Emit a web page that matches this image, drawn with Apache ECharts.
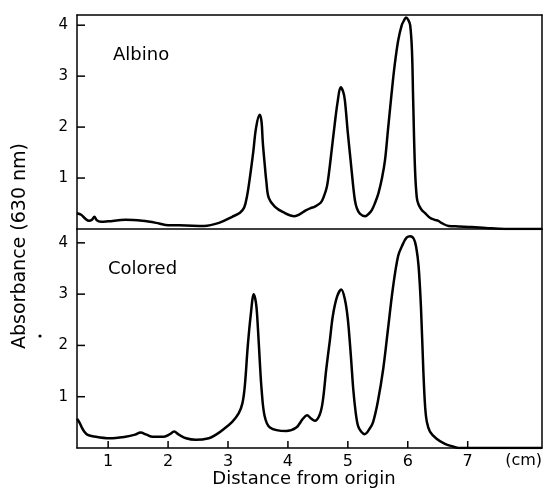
<!DOCTYPE html>
<html>
<head>
<meta charset="utf-8">
<script src="https://cdn.jsdelivr.net/npm/echarts@6/dist/echarts.min.js"></script>
<style>
html,body{margin:0;padding:0;background:#fff;}
#c{width:544px;height:488px;}
</style>
</head>
<body>
<div id="c"></div>
<script>
// Distance from origin (cm) and absorbance (630 nm)
var albinoX = [0.48,0.55,0.62,0.68,0.73,0.77,0.81,0.88,1.0,1.29,1.57,1.8,1.96,2.3,2.6,2.85,3.07,3.2,3.27,3.32,3.37,3.42,3.47,3.53,3.56,3.58,3.61,3.64,3.68,3.78,3.92,4.11,4.2,4.29,4.38,4.45,4.55,4.6,4.65,4.69,4.73,4.78,4.83,4.88,4.92,4.95,5.0,5.05,5.09,5.12,5.15,5.2,5.29,5.35,5.4,5.45,5.51,5.57,5.62,5.67,5.73,5.78,5.84,5.9,5.94,5.97,6.01,6.04,6.07,6.09,6.12,6.15,6.18,6.23,6.29,6.37,6.45,6.51,6.56,6.68,6.85,7.07,7.3,7.62,8.24];
var albinoY = [0.31,0.28,0.20,0.16,0.18,0.24,0.17,0.14,0.15,0.18,0.16,0.12,0.08,0.07,0.06,0.12,0.24,0.32,0.42,0.66,1.05,1.5,2.0,2.24,2.1,1.71,1.3,0.93,0.61,0.44,0.33,0.25,0.29,0.36,0.41,0.44,0.52,0.64,0.83,1.15,1.55,2.05,2.5,2.78,2.7,2.53,1.88,1.3,0.83,0.55,0.41,0.30,0.25,0.3,0.37,0.5,0.70,1.0,1.35,1.95,2.66,3.2,3.7,4.0,4.1,4.15,4.1,4.0,3.5,2.53,1.2,0.62,0.48,0.38,0.31,0.22,0.18,0.16,0.12,0.06,0.05,0.04,0.02,0.0,0.0];

var coloredX = [0.48,0.52,0.56,0.6,0.65,0.74,1.02,1.29,1.45,1.54,1.64,1.74,1.93,2.03,2.1,2.18,2.3,2.46,2.68,2.8,2.91,3.07,3.18,3.24,3.28,3.33,3.38,3.43,3.47,3.5,3.53,3.56,3.61,3.7,3.97,4.14,4.25,4.32,4.38,4.45,4.53,4.58,4.64,4.7,4.75,4.82,4.89,4.95,5.0,5.05,5.09,5.13,5.17,5.22,5.28,5.36,5.42,5.5,5.59,5.67,5.75,5.84,5.92,5.98,6.04,6.1,6.14,6.18,6.22,6.26,6.29,6.32,6.37,6.48,6.62,6.75,6.85,8.24];
var coloredY = [0.57,0.50,0.40,0.32,0.26,0.23,0.19,0.22,0.26,0.30,0.26,0.22,0.22,0.27,0.32,0.26,0.19,0.16,0.19,0.26,0.35,0.51,0.68,0.87,1.2,1.99,2.6,3.0,2.8,2.32,1.7,1.15,0.63,0.40,0.33,0.40,0.57,0.64,0.58,0.53,0.65,0.9,1.54,2.1,2.58,2.95,3.09,2.9,2.51,1.8,1.15,0.7,0.43,0.32,0.27,0.37,0.50,0.9,1.54,2.32,3.1,3.75,3.98,4.1,4.13,4.08,3.92,3.55,2.75,1.5,0.8,0.5,0.32,0.18,0.08,0.03,0.0,0.0];

var xTicks = [1,2,3,4,5,6,7];
var yTicks = [1,2,3,4];
var xMin = 0.48, xMax = 8.24;
var yMaxTop = 4.2, yMaxBottom = 4.27;

function pairs(xs, ys){ return xs.map(function(x,i){ return [x, ys[i]]; }); }

// helper category slots (0.04 cm apart) used only to place x labels at whole centimetres
var tickSlots = [];
for (var k = 48; k <= 824; k += 4) tickSlots.push((k/100).toFixed(2));
function isTickSlot(i, v){ return xTicks.indexOf(Number(v)) >= 0; }

var FONT = 'DejaVu Sans';
var LINE = {color:'#000', width:1.5};
var GRID_W = 465, GRID_H_BOTTOM = 219;
var chart = echarts.init(document.getElementById('c'), null, {renderer:'canvas'});

function frameX(grid, pos){
  return {gridIndex:grid, type:'value', min:xMin, max:xMax, position:pos,
    axisLine:{show:true, onZero:false, lineStyle:LINE},
    splitLine:{show:false}, axisTick:{show:false}, axisLabel:{show:false}};
}
function frameY(grid, max){
  return {gridIndex:grid, type:'value', min:0, max:max, position:'right',
    axisLine:{show:true, onZero:false, lineStyle:LINE},
    splitLine:{show:false}, axisTick:{show:false}, axisLabel:{show:false}};
}
function leftY(grid, max){
  return {gridIndex:grid, type:'value', min:0, max:max, interval:1, position:'left',
    axisLine:{show:true, onZero:false, lineStyle:LINE},
    splitLine:{show:false}, axisTick:{show:false},
    axisLabel:{show:true, color:'#000', fontSize:15, fontFamily:FONT, margin:9,
      formatter:function(v){ return yTicks.indexOf(v) >= 0 ? String(v) : ''; }}};
}

// inward tick marks drawn as tiny two-point line series on the same axes
var tickSeries = [];
var dxTick = 8 * (xMax - xMin) / GRID_W;        // 8 px along x
var dyTick = 7 * yMaxBottom / GRID_H_BOTTOM;    // 7 px along y
function tickLine(xi, yi, a, b){
  return {type:'line', xAxisIndex:xi, yAxisIndex:yi, data:[a, b], silent:true, z:5,
    showSymbol:false, symbol:'none', smooth:false, clip:false,
    lineStyle:{color:'#000', width:1.5}};
}
yTicks.forEach(function(v){
  tickSeries.push(tickLine(0, 0, [xMin, v], [xMin + dxTick, v]));
  tickSeries.push(tickLine(2, 2, [xMin, v], [xMin + dxTick, v]));
});
xTicks.forEach(function(v){
  tickSeries.push(tickLine(2, 2, [v, 0], [v, dyTick]));
});

var option = {
  animation:false,
  backgroundColor:'#fff',
  grid:[
    {left:77, top:15, width:GRID_W, height:214, show:false},
    {left:77, top:229, width:GRID_W, height:GRID_H_BOTTOM, show:false}
  ],
  xAxis:[
    frameX(0,'bottom'), frameX(0,'top'), frameX(1,'bottom'),
    {gridIndex:1, type:'category', data:tickSlots, boundaryGap:false, position:'bottom',
     axisLine:{show:false}, splitLine:{show:false}, axisTick:{show:false},
     axisLabel:{show:true, interval:isTickSlot, color:'#000', fontSize:16, fontFamily:FONT, margin:6,
       formatter:function(v){ return String(Number(v)); }}}
  ],
  yAxis:[ leftY(0,yMaxTop), frameY(0,yMaxTop), leftY(1,yMaxBottom), frameY(1,yMaxBottom) ],
  series:[
    {type:'line', name:'Albino', xAxisIndex:0, yAxisIndex:0, data:pairs(albinoX, albinoY),
     showSymbol:false, smooth:0.35, lineStyle:{color:'#000', width:2.5}},
    {type:'line', name:'Colored', xAxisIndex:2, yAxisIndex:2, data:pairs(coloredX, coloredY),
     showSymbol:false, smooth:0.35, lineStyle:{color:'#000', width:2.5}}
  ].concat(tickSeries),
  graphic:[
    {type:'text', x:113, y:55.5, style:{text:'Albino', font:'18px "DejaVu Sans"', fill:'#000', textAlign:'left', textVerticalAlign:'middle'}},
    {type:'text', x:108, y:269, style:{text:'Colored', font:'18px "DejaVu Sans"', fill:'#000', textAlign:'left', textVerticalAlign:'middle'}},
    {type:'text', x:542, y:461, style:{text:'(cm)', font:'16px "DejaVu Sans"', fill:'#000', textAlign:'right', textVerticalAlign:'middle'}},
    {type:'text', x:304, y:479, style:{text:'Distance from origin', font:'18px "DejaVu Sans"', fill:'#000', textAlign:'center', textVerticalAlign:'middle'}},
    {type:'text', x:20, y:246, rotation:Math.PI/2, style:{text:'Absorbance (630 nm)', font:'19px "DejaVu Sans"', fill:'#000', textAlign:'center', textVerticalAlign:'middle'}},
    {type:'circle', shape:{cx:40, cy:336, r:1.6}, style:{fill:'#000'}}
  ]
};
chart.setOption(option);
</script>
</body>
</html>
